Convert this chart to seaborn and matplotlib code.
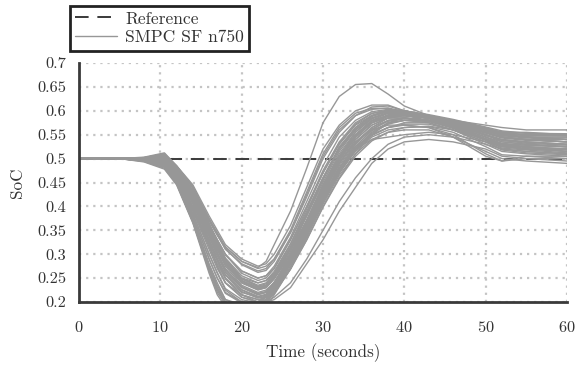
import matplotlib
matplotlib.use("Agg")
import matplotlib.pyplot as plt
import seaborn as sns
import pandas as pd
from matplotlib.lines import Line2D

# ---- data ----
time_s = [0, 5, 8, 10.5, 12, 14, 16, 17, 18, 20, 22, 23, 24, 26, 28, 30, 32, 34, 36, 38, 40, 43, 46, 50, 52, 55, 60]

run01 = [.5, .5, .503, .512, .485, .44, .37, .34, .315, .285, .272, .285, .32, .39, .48, .575, .63, .655, .657, .635, .61, .59, .575, .55, .54, .535, .53]
run02 = [.5, .5, .502, .51, .485, .445, .38, .35, .32, .29, .275, .28, .30, .36, .44, .52, .57, .60, .612, .612, .60, .585, .575, .555, .545, .54, .535]
run03 = [.5, .5, .501, .508, .483, .44, .375, .345, .315, .285, .27, .275, .29, .345, .42, .50, .555, .59, .608, .61, .60, .59, .58, .56, .55, .545, .54]
run04 = [.5, .5, .50, .505, .48, .43, .36, .33, .30, .265, .25, .255, .27, .33, .40, .47, .53, .57, .59, .60, .595, .585, .575, .56, .55, .545, .545]
run05 = [.5, .5, .499, .50, .475, .42, .35, .32, .29, .25, .24, .245, .26, .31, .37, .44, .50, .545, .575, .59, .59, .585, .575, .555, .545, .54, .54]
run06 = [.5, .5, .498, .497, .472, .41, .34, .31, .28, .245, .23, .235, .25, .30, .36, .42, .48, .53, .565, .585, .59, .585, .57, .55, .535, .53, .525]
run07 = [.5, .5, .497, .49, .46, .385, .30, .26, .225, .20, .19, .20, .22, .27, .33, .40, .46, .51, .55, .575, .585, .58, .57, .545, .53, .52, .52]
run08 = [.5, .5, .496, .487, .455, .375, .28, .24, .205, .19, .20, .21, .23, .28, .35, .42, .48, .525, .56, .58, .585, .58, .565, .54, .525, .525, .515]
run09 = [.5, .5, .497, .492, .465, .395, .32, .275, .24, .21, .20, .20, .21, .24, .29, .35, .41, .46, .50, .53, .545, .55, .545, .53, .52, .515, .51]
run10 = [.5, .5, .498, .495, .47, .405, .33, .29, .25, .215, .205, .20, .205, .23, .28, .33, .39, .44, .49, .52, .535, .54, .535, .52, .505, .50, .495]
run11 = [.5, .5, .493, .478, .445, .365, .26, .215, .19, .185, .19, .20, .22, .28, .35, .43, .49, .54, .57, .585, .585, .58, .565, .54, .525, .52, .515]
run12 = [.5, .5, .495, .482, .45, .37, .27, .225, .20, .19, .185, .19, .215, .27, .34, .41, .47, .52, .555, .575, .58, .575, .56, .535, .52, .515, .51]
run13 = [.5, .5, .499, .502, .477, .42, .345, .31, .275, .235, .22, .225, .24, .29, .355, .425, .49, .54, .57, .585, .59, .585, .575, .555, .545, .54, .535]
run14 = [.5, .5, .50, .504, .479, .428, .355, .32, .285, .245, .23, .232, .25, .31, .38, .45, .515, .56, .585, .595, .595, .585, .575, .56, .55, .545, .54]
run15 = [.5, .5, .501, .506, .481, .432, .36, .325, .29, .25, .232, .235, .255, .315, .385, .46, .525, .565, .59, .60, .60, .59, .58, .565, .555, .55, .55]
run16 = [.5, .5, .498, .494, .467, .40, .325, .285, .25, .22, .21, .215, .235, .29, .36, .43, .49, .535, .56, .57, .57, .565, .55, .51, .495, .50, .50]
run17 = [.5, .5, .497, .491, .463, .39, .31, .27, .24, .215, .205, .21, .23, .285, .35, .42, .48, .525, .55, .565, .57, .565, .545, .505, .495, .505, .505]
run18 = [.5, .5, .501, .507, .482, .434, .36, .33, .30, .26, .245, .25, .27, .33, .40, .475, .535, .575, .595, .60, .598, .59, .58, .57, .565, .56, .56]
run19 = [.5, .5, .50, .503, .478, .424, .35, .315, .28, .24, .225, .23, .25, .30, .37, .44, .505, .55, .58, .59, .59, .585, .575, .56, .555, .555, .55]
run20 = [.5, .5, .499, .499, .474, .415, .34, .30, .265, .23, .215, .22, .24, .29, .355, .425, .49, .535, .565, .58, .585, .58, .57, .55, .54, .535, .53]
run21 = [.5, .5, .502, .509, .484, .44, .37, .34, .31, .28, .265, .27, .29, .35, .43, .51, .565, .595, .605, .605, .595, .585, .575, .555, .545, .54, .535]
run22 = [.5, .5, .498, .496, .471, .41, .33, .29, .258, .225, .21, .215, .235, .285, .35, .42, .48, .52, .54, .545, .55, .555, .55, .535, .525, .52, .52]
run23 = [.5, .5, .496, .485, .452, .372, .275, .23, .20, .185, .19, .20, .225, .285, .355, .43, .495, .545, .575, .59, .59, .58, .565, .54, .53, .525, .52]
run24 = [.5, .5, .494, .48, .447, .367, .265, .22, .195, .19, .195, .205, .23, .29, .36, .44, .50, .55, .58, .595, .595, .585, .57, .545, .535, .53, .525]
run25 = [.5, .5, .50, .505, .48, .43, .358, .322, .288, .25, .235, .24, .26, .32, .39, .46, .52, .56, .585, .595, .595, .59, .58, .56, .55, .545, .545]
run26 = [.5, .5, .499, .50, .476, .418, .345, .305, .27, .232, .218, .222, .242, .295, .36, .435, .50, .548, .578, .592, .593, .586, .572, .548, .538, .534, .53]
run27 = [.5, .5, .498, .493, .466, .398, .32, .28, .248, .215, .20, .205, .225, .28, .345, .415, .475, .52, .55, .565, .575, .575, .56, .53, .515, .51, .505]
run28 = [.5, .5, .501, .507, .483, .438, .365, .33, .298, .265, .25, .255, .275, .335, .41, .485, .545, .58, .598, .603, .60, .59, .58, .562, .552, .548, .548]
run29 = [.5, .5, .497, .489, .458, .38, .29, .25, .22, .20, .195, .20, .22, .27, .335, .405, .465, .51, .54, .555, .56, .56, .545, .515, .50, .495, .49]
run30 = [.5, .5, .495, .484, .45, .37, .275, .235, .205, .195, .20, .215, .24, .30, .37, .445, .505, .55, .575, .585, .585, .578, .565, .54, .53, .528, .525]
run31 = [.5, .5, .499, .501, .476, .418, .348, .312, .278, .24, .226, .23, .248, .30, .365, .435, .50, .545, .575, .588, .59, .585, .573, .553, .543, .538, .535]
run32 = [.5, .5, .497, .488, .456, .378, .29, .25, .218, .198, .192, .198, .218, .27, .34, .41, .47, .52, .553, .572, .58, .578, .563, .538, .522, .518, .512]
run33 = [.5, .5, .502, .51, .484, .442, .372, .342, .312, .278, .262, .266, .285, .345, .425, .505, .56, .59, .603, .606, .598, .588, .578, .558, .548, .545, .54]
run34 = [.5, .5, .498, .495, .469, .405, .33, .29, .256, .222, .208, .212, .23, .28, .345, .41, .47, .515, .545, .56, .565, .568, .56, .54, .528, .523, .518]
run35 = [.5, .5, .50, .503, .478, .424, .352, .316, .282, .244, .228, .234, .254, .31, .38, .455, .52, .565, .59, .60, .598, .59, .58, .563, .556, .553, .552]
run36 = [.5, .5, .496, .486, .451, .37, .275, .23, .20, .19, .195, .21, .235, .295, .365, .44, .505, .555, .583, .597, .598, .588, .575, .55, .538, .532, .528]
run37 = [.5, .5, .499, .498, .473, .413, .34, .302, .268, .232, .216, .22, .238, .29, .352, .42, .485, .532, .562, .578, .583, .58, .568, .545, .532, .528, .524]
run38 = [.5, .5, .497, .49, .46, .385, .30, .262, .228, .205, .198, .203, .22, .268, .33, .398, .458, .505, .537, .555, .565, .567, .555, .525, .508, .505, .50]
run39 = [.5, .5, .501, .506, .482, .432, .36, .326, .292, .255, .24, .245, .264, .322, .395, .47, .532, .572, .594, .602, .60, .592, .582, .566, .558, .553, .55]
run40 = [.5, .5, .498, .492, .464, .393, .315, .275, .24, .21, .20, .204, .222, .275, .342, .412, .472, .518, .548, .565, .572, .572, .56, .535, .518, .512, .508]
run41 = [.5, .5, .50, .502, .477, .421, .35, .314, .28, .242, .227, .231, .25, .305, .372, .445, .51, .556, .584, .596, .596, .589, .578, .558, .548, .543, .54]
run42 = [.5, .5, .495, .483, .448, .368, .27, .225, .198, .188, .192, .205, .228, .288, .358, .432, .495, .545, .575, .59, .592, .583, .568, .542, .53, .525, .52]
run43 = [.5, .5, .499, .497, .472, .41, .336, .296, .262, .226, .212, .216, .234, .285, .348, .415, .478, .526, .558, .574, .58, .578, .566, .54, .526, .52, .515]
run44 = [.5, .5, .501, .505, .481, .43, .356, .32, .286, .248, .233, .238, .257, .315, .385, .458, .522, .562, .588, .598, .597, .59, .58, .562, .553, .55, .548]

runs = [run01, run02, run03, run04, run05, run06, run07, run08, run09, run10,
        run11, run12, run13, run14, run15, run16, run17, run18, run19, run20,
        run21, run22, run23, run24, run25, run26, run27, run28, run29, run30,
        run31, run32, run33, run34, run35, run36, run37, run38, run39, run40,
        run41, run42, run43, run44]

reference_value = 0.5
x_ticks = [0, 10, 20, 30, 40, 50, 60]
y_ticks = [0.2, 0.25, 0.3, 0.35, 0.4, 0.45, 0.5, 0.55, 0.6, 0.65, 0.7]
y_tick_labels = ["0.2", "0.25", "0.3", "0.35", "0.4", "0.45", "0.5", "0.55", "0.6", "0.65", "0.7"]
legend_labels = ["Reference", "SMPC SF n750"]

# ---- build long table ----
rows = []
for i, r in enumerate(runs):
    for t, v in zip(time_s, r):
        rows.append({"run": i, "t": t, "soc": v})
df = pd.DataFrame(rows)
ref_df = pd.DataFrame({"t": [x_ticks[0], x_ticks[-1]], "soc": [reference_value, reference_value]})

# ---- style ----
sns.set_theme(style="white")
plt.rcParams["font.family"] = ["cmr10", "DejaVu Serif"]
plt.rcParams["axes.formatter.use_mathtext"] = True
plt.rcParams["mathtext.fontset"] = "cm"

gray = "#979797"
dark = "#3a3a3a"

fig = plt.figure(figsize=(5.76, 3.66), dpi=100)
ax = fig.add_axes([79 / 576, 1 - 302 / 366, (567 - 79) / 576, (302 - 63) / 366])

sns.lineplot(data=ref_df, x="t", y="soc", ax=ax, color=dark, lw=1.4,
             dashes=False, zorder=1).lines[-1].set_dashes([7, 4.5])
sns.lineplot(data=df, x="t", y="soc", units="run", estimator=None, ax=ax,
             color=gray, lw=1.0, zorder=2)

ax.set_xlim(0, 60)
ax.set_ylim(0.2, 0.7)
ax.set_xticks(x_ticks)
ax.set_yticks(y_ticks)
ax.set_yticklabels(y_tick_labels)
ax.set_xlabel("Time (seconds)", fontsize=12.3, color="#333333", labelpad=6)
ax.set_ylabel("SoC", fontsize=12.3, color="#333333", labelpad=9)

ax.grid(True, linestyle=(0, (1, 2.2)), color="#c4c4c4", lw=1.6)
for s in ["top", "right"]:
    ax.spines[s].set_visible(False)
for s in ["left", "bottom"]:
    ax.spines[s].set_color(dark)
    ax.spines[s].set_linewidth(2.0)
    ax.spines[s].set_zorder(5)
ax.tick_params(axis="both", direction="inout", length=8, width=2, color=dark,
               labelsize=11.8, labelcolor="#333333")
ax.tick_params(axis="x", pad=9)
ax.tick_params(axis="y", pad=5)

handles = [Line2D([], [], color=dark, lw=1.4, dashes=[7, 4.5]),
           Line2D([], [], color=gray, lw=1.0)]
leg = fig.legend(handles, legend_labels, loc="upper left",
                 bbox_to_anchor=(70 / 576, 1 - 6 / 366), bbox_transform=fig.transFigure,
                 fancybox=False, framealpha=1, edgecolor="#222222", fontsize=12.6,
                 handlelength=2.4, handletextpad=0.45, borderpad=0.3, labelspacing=0.2,
                 borderaxespad=0)
leg.get_frame().set_linewidth(2.0)
for txt in leg.get_texts():
    txt.set_color("#333333")

fig.savefig("out.png", dpi=100)
